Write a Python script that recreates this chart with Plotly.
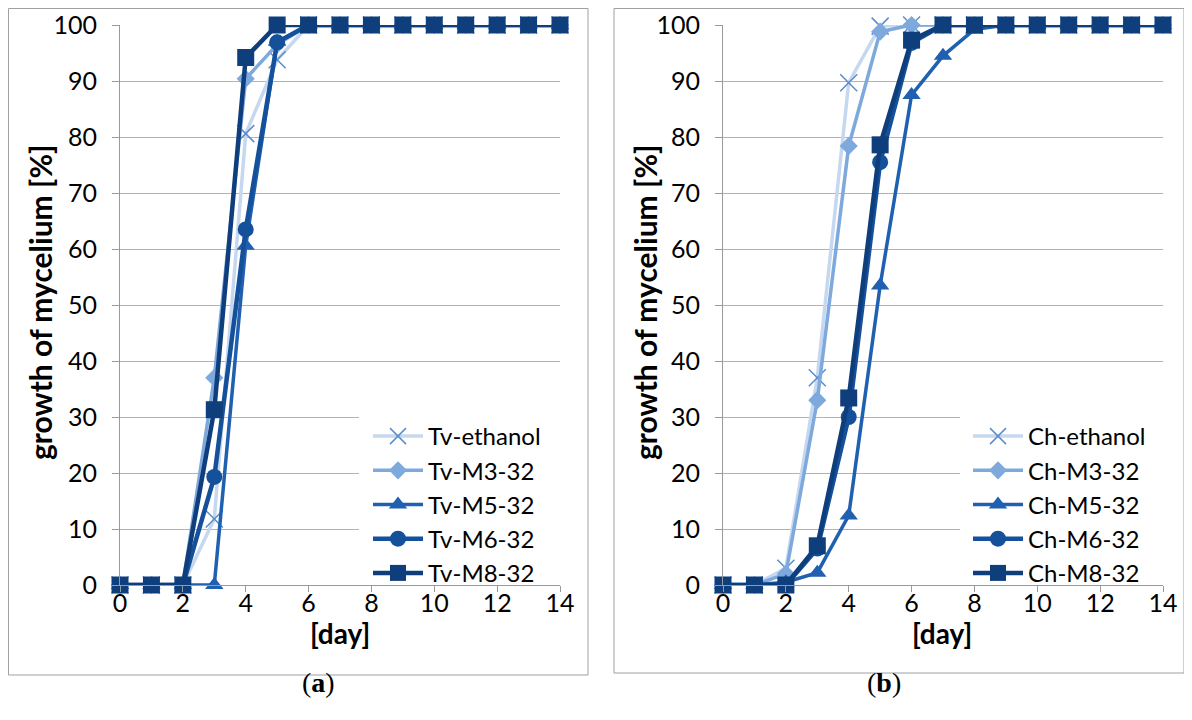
import plotly.graph_objects as go

days = list(range(15))

# Panel (a) - Tv
tv_names = ["Tv-ethanol", "Tv-M3-32", "Tv-M5-32", "Tv-M6-32", "Tv-M8-32"]
tv_ethanol = [0, 0, 0, 11.8, 80.6, 93.8, 100, 100, 100, 100, 100, 100, 100, 100, 100]
tv_m3 = [0, 0, 0, 37.0, 90.4, 96.5, 100, 100, 100, 100, 100, 100, 100, 100, 100]
tv_m5 = [0, 0, 0, 0, 60.6, 97.0, 100, 100, 100, 100, 100, 100, 100, 100, 100]
tv_m6 = [0, 0, 0, 19.3, 63.5, 96.9, 100, 100, 100, 100, 100, 100, 100, 100, 100]
tv_m8 = [0, 0, 0, 31.3, 94.2, 100, 100, 100, 100, 100, 100, 100, 100, 100, 100]

# Panel (b) - Ch
ch_names = ["Ch-ethanol", "Ch-M3-32", "Ch-M5-32", "Ch-M6-32", "Ch-M8-32"]
ch_ethanol = [0, 0, 3.0, 37.0, 89.7, 99.8, 100, 100, 100, 100, 100, 100, 100, 100, 100]
ch_m3 = [0, 0, 2.0, 33.0, 78.4, 98.8, 100, 100, 100, 100, 100, 100, 100, 100, 100]
ch_m5 = [0, 0, 0.5, 2.2, 12.4, 53.5, 87.5, 94.5, 99.2, 100, 100, 100, 100, 100, 100]
ch_m6 = [0, 0, 0, 6.5, 30.0, 75.5, 96.8, 100, 100, 100, 100, 100, 100, 100, 100]
ch_m8 = [0, 0, 0, 7.0, 33.4, 78.6, 97.3, 100, 100, 100, 100, 100, 100, 100, 100]

x_ticks = [0, 2, 4, 6, 8, 10, 12, 14]
y_ticks = [0, 10, 20, 30, 40, 50, 60, 70, 80, 90, 100]

FONT = "Lato"
styles = [
    dict(line=dict(color="#c6d8ef", width=3.5),
         marker=dict(symbol="x-thin-open", size=17, line=dict(color="#5b8ccb", width=1.5), color="#5b8ccb")),
    dict(line=dict(color="#7ea9dd", width=3.5),
         marker=dict(symbol="diamond", size=14, color="#7ea9dd")),
    dict(line=dict(color="#1f60b0", width=3.5),
         marker=dict(symbol="triangle-up", size=16, color="#1f60b0")),
    dict(line=dict(color="#14519a", width=4.5),
         marker=dict(symbol="circle", size=16, color="#14519a")),
    dict(line=dict(color="#0f3e7c", width=4.5),
         marker=dict(symbol="square", size=17, color="#0f3e7c")),
]

fig = go.Figure()

tv_series = [tv_ethanol, tv_m3, tv_m5, tv_m6, tv_m8]
ch_series = [ch_ethanol, ch_m3, ch_m5, ch_m6, ch_m8]

for i, (name, vals) in enumerate(zip(tv_names, tv_series)):
    fig.add_trace(go.Scatter(x=days, y=vals, name=name, mode="lines+markers",
                             xaxis="x", yaxis="y", legend="legend",
                             cliponaxis=False, **styles[i]))
for i, (name, vals) in enumerate(zip(ch_names, ch_series)):
    fig.add_trace(go.Scatter(x=days, y=vals, name=name, mode="lines+markers",
                             xaxis="x2", yaxis="y2", legend="legend2",
                             cliponaxis=False, **styles[i]))

# page has an 8px body margin: figure placed at (8, 8) in the screenshot
OFF = 8
W, H = 1176, 704
def px(x):
    return (x - OFF) / W
def py(y):
    return 1 - (y - OFF) / H

grid = "#b3b3b3"
axis_common = dict(showline=True, linecolor="#9a9a9a", linewidth=1, ticks="outside",
                   tickcolor="#9a9a9a", zeroline=False,
                   tickfont=dict(family=FONT, size=25, color="#000000"))

ybot, ytop = py(585), py(25)

legend_common = dict(xanchor="left", yanchor="top", bgcolor="rgba(0,0,0,0)", borderwidth=0,
                     font=dict(family=FONT, size=24, color="#000000"),
                     itemwidth=50, traceorder="normal")

fig.update_layout(
    width=W, height=H, margin=dict(l=0, r=0, t=0, b=0, autoexpand=False),
    paper_bgcolor="white", plot_bgcolor="white", showlegend=True,
    xaxis=dict(domain=[px(120), px(560)], range=[0, 14], tickvals=x_ticks, showgrid=False,
               anchor="y", ticklen=6, ticklabelstandoff=-10, **axis_common),
    yaxis=dict(domain=[ybot, ytop], range=[0, 100], tickvals=y_ticks, showgrid=True,
               gridcolor=grid, gridwidth=1, anchor="x", ticklen=7, ticklabelstandoff=10, **axis_common),
    xaxis2=dict(domain=[px(723), px(1163)], range=[0, 14], tickvals=x_ticks, showgrid=False,
                anchor="y2", ticklen=6, ticklabelstandoff=-10, **axis_common),
    yaxis2=dict(domain=[ybot, ytop], range=[0, 100], tickvals=y_ticks, showgrid=True,
                gridcolor=grid, gridwidth=1, anchor="x2", ticklen=7, ticklabelstandoff=10, **axis_common),
    legend=dict(x=px(368), y=py(414), **legend_common),
    legend2=dict(x=px(968), y=py(414), **legend_common),
)

# white box behind each legend (hides gridlines, like the original)
fig.add_shape(type="rect", xref="paper", yref="paper", x0=px(359), x1=px(561), y0=py(582), y1=py(416),
              fillcolor="white", line=dict(width=0), layer="above")
fig.add_shape(type="rect", xref="paper", yref="paper", x0=px(960), x1=px(1164), y0=py(582), y1=py(416),
              fillcolor="white", line=dict(width=0), layer="above")

# panel borders
fig.add_shape(type="rect", xref="paper", yref="paper", x0=px(8.5), x1=px(588), y0=py(675), y1=py(8.5),
              line=dict(color="#a0a0a0", width=1), layer="below")
fig.add_shape(type="rect", xref="paper", yref="paper", x0=px(614), x1=px(1184), y0=py(673), y1=py(8.5),
              line=dict(color="#a0a0a0", width=1), layer="below")

ann = [
    dict(x=px(40), y=py(303), text="<b>growth of mycelium [%]</b>", textangle=-90, size=30),
    dict(x=px(645), y=py(303), text="<b>growth of mycelium [%]</b>", textangle=-90, size=30),
    dict(x=px(340), y=py(633), text="<b>[day]</b>", size=28),
    dict(x=px(942), y=py(633), text="<b>[day]</b>", size=28),
]
for a in ann:
    size = a.pop("size")
    fig.add_annotation(xref="paper", yref="paper", showarrow=False, xanchor="center", yanchor="middle",
                       font=dict(family=FONT, size=size, color="#000000"), **a)

fig.add_annotation(x=px(300), y=py(700), xref="paper", yref="paper", showarrow=False,
                   text="(<b>a</b>)", font=dict(family="Liberation Serif", size=28, color="#000000"))
fig.add_annotation(x=px(903), y=py(700), xref="paper", yref="paper", showarrow=False,
                   text="(<b>b</b>)", font=dict(family="Liberation Serif", size=28, color="#000000"))

fig.write_html("out.html")
